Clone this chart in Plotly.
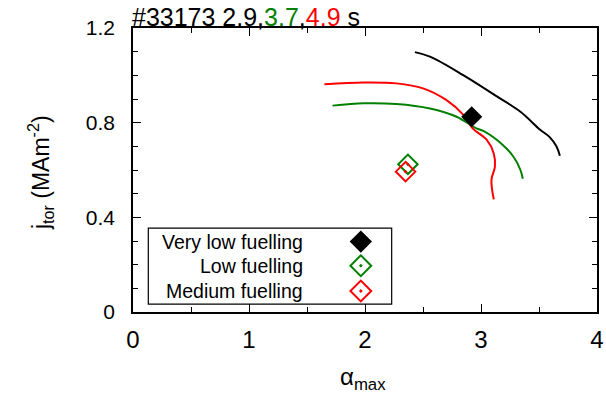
import plotly.graph_objects as go

# j_tor vs alpha_max profiles for #33173 at three time slices
black_alpha = [2.43, 2.56, 2.85, 3.14, 3.34, 3.51, 3.59, 3.65, 3.68]
black_jtor = [1.098, 1.079, 1.00, 0.91, 0.846, 0.77, 0.74, 0.70, 0.66]

green_alpha = [1.72, 1.99, 2.27, 2.56, 2.79, 2.96, 3.02, 3.19, 3.28, 3.34, 3.36]
green_jtor = [0.872, 0.882, 0.879, 0.86, 0.825, 0.776, 0.765, 0.705, 0.656, 0.60, 0.563]

red_alpha = [1.65, 1.99, 2.27, 2.50, 2.70, 2.85, 2.93, 3.05, 3.11, 3.12, 3.09, 3.11]
red_jtor = [0.962, 0.97, 0.966, 0.945, 0.896, 0.832, 0.775, 0.727, 0.67, 0.614, 0.558, 0.476]

# Operating points
point_labels = ["Very low fuelling", "Low fuelling", "Medium fuelling"]
point_alpha = [2.92, 2.37, 2.35]
point_jtor = [0.825, 0.624, 0.593]
point_colors = ["black", "#008000", "#ff0000"]
point_symbols = ["diamond", "diamond-open-dot", "diamond-open-dot"]
point_sizes = [14, 15, 15]

x_ticks = [0, 1, 2, 3, 4]
y_ticks = [0, 0.4, 0.8, 1.2]

FONT = "Liberation Sans, Arial, sans-serif"

fig = go.Figure()

for xs, ys, c in [(black_alpha, black_jtor, "black"),
                  (green_alpha, green_jtor, "#008000"),
                  (red_alpha, red_jtor, "#ff0000")]:
    fig.add_trace(go.Scatter(x=xs, y=ys, mode="lines", line=dict(color=c, width=2, shape="spline"),
                             showlegend=False, hoverinfo="skip"))

for i in range(len(point_labels)):
    fig.add_trace(go.Scatter(x=[point_alpha[i]], y=[point_jtor[i]], mode="markers",
                             marker=dict(symbol=point_symbols[i], size=point_sizes[i],
                                         color=point_colors[i], opacity=1,
                                         line=dict(color=point_colors[i], width=2)),
                             showlegend=False, name=point_labels[i]))

# Key box: text right-aligned, symbol on the right (overlay axes in 0..1 units)
leg_y = [0.248, 0.163, 0.074]
leg_marker_x = 0.491
fig.add_trace(go.Scatter(x=[leg_marker_x] * 3, y=leg_y, mode="markers",
                         marker=dict(symbol=point_symbols, size=[15, 16, 16], color=point_colors,
                                     opacity=1, line=dict(color=point_colors, width=2)),
                         xaxis="x2", yaxis="y2", showlegend=False, hoverinfo="skip"))
for lab, yy in zip(point_labels, leg_y):
    fig.add_annotation(x=0.371, y=yy, xref="x2", yref="y2", text=lab, showarrow=False,
                       xanchor="right", yanchor="middle", font=dict(size=19.5, family=FONT, color="black"))
fig.add_shape(type="rect", xref="x2", yref="y2", x0=0.033, x1=0.5575, y0=0.028, y1=0.295,
              line=dict(color="black", width=1.2), fillcolor="white", layer="below")

# Title with coloured time slices
fig.add_annotation(x=0, y=1, xref="paper", yref="paper", xanchor="left", yanchor="bottom",
                   xshift=-3, yshift=-5, showarrow=False,
                   text="#33173 2.9,<span style='color:#008000'>3.7</span>,"
                        "<span style='color:#ff0000'>4.9</span> s",
                   font=dict(size=25, family=FONT, color="black"))

# Axis titles
fig.add_annotation(x=0.495, y=-0.235, xref="paper", yref="paper", xanchor="center", yanchor="middle",
                   showarrow=False, text="α<sub>max</sub>",
                   font=dict(size=24, family=FONT, color="black"))
fig.add_annotation(x=-0.2, y=0.49, xref="paper", yref="paper", xanchor="center", yanchor="middle",
                   showarrow=False, textangle=-90, text="j<sub>tor</sub> (MAm<sup>-2</sup>)",
                   font=dict(size=23, family=FONT, color="black"))

axis_common = dict(showgrid=False, zeroline=False, showline=True, linecolor="black", linewidth=1.5,
                   mirror="allticks", ticks="inside", ticklen=8, tickwidth=1.2, tickcolor="black",
                   automargin=False)

fig.update_layout(
    width=606, height=396,
    margin=dict(l=133, r=9, t=28, b=84, autoexpand=False),
    paper_bgcolor="white", plot_bgcolor="white",
    showlegend=False,
    xaxis=dict(range=[0, 4], tickvals=x_ticks, ticktext=[str(v) for v in x_ticks],
               minor=dict(dtick=0.5, ticklen=5, tickcolor="black", ticks="inside", showgrid=False),
               tickfont=dict(size=24, family=FONT, color="black"),
               ticklabelstandoff=5, **axis_common),
    yaxis=dict(range=[0, 1.2], tickvals=y_ticks, ticktext=["0", "0.4", "0.8", "1.2"],
               minor=dict(dtick=0.1, ticklen=5, tickcolor="black", ticks="inside", showgrid=False),
               tickfont=dict(size=21, family=FONT, color="black"),
               ticklabelstandoff=12, **axis_common),
    xaxis2=dict(range=[0, 1], overlaying="x", visible=False, fixedrange=True),
    yaxis2=dict(range=[0, 1], overlaying="y", visible=False, fixedrange=True),
)

fig.write_html("out.html")
